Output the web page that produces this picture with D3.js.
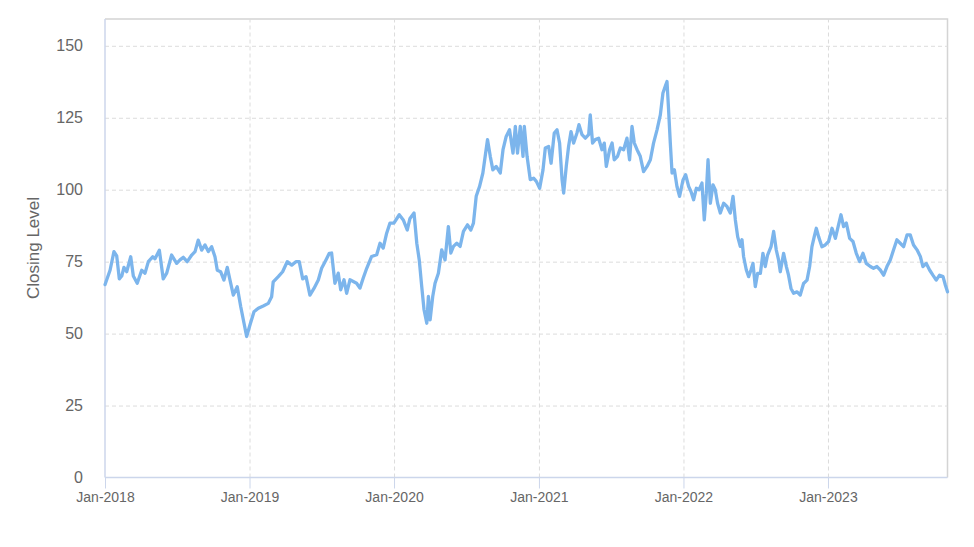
<!DOCTYPE html>
<html>
<head>
<meta charset="utf-8">
<script src="https://cdn.jsdelivr.net/npm/d3@7"></script>
<style>
  html, body { margin: 0; padding: 0; background: #fff; }
  svg { display: block; font-family: "Liberation Sans", Arial, sans-serif; }
</style>
</head>
<body>
<svg id="chart" width="974" height="547"></svg>
<script>
// ---- data (decimal-year dates and closing levels) ----
const yearPos = [
  2018.000,2018.007,2018.035,2018.062,2018.081,2018.099,2018.116,2018.131,2018.150,2018.178,2018.196,
  2018.223,2018.254,2018.277,2018.300,2018.330,2018.346,2018.376,2018.403,2018.427,2018.461,2018.496,
  2018.519,2018.542,2018.569,2018.600,2018.623,2018.645,2018.669,2018.692,2018.715,2018.738,2018.761,
  2018.777,2018.800,2018.823,2018.846,2018.865,2018.888,2018.915,2018.939,2018.962,2018.980,2019.003,
  2019.031,2019.061,2019.095,2019.130,2019.153,2019.164,2019.199,2019.229,2019.261,2019.292,2019.321,
  2019.344,2019.368,2019.391,2019.418,2019.446,2019.476,2019.499,2019.529,2019.552,
  2019.568,2019.591,2019.614,2019.631,2019.654,2019.672,2019.695,2019.718,2019.741,2019.764,2019.787,
  2019.811,2019.845,2019.880,2019.903,2019.925,2019.949,2019.972,2019.999,2020.036,2020.064,2020.091,
  2020.110,2020.138,2020.157,2020.174,2020.191,2020.207,2020.226,2020.237,2020.249,2020.267,2020.283,
  2020.306,2020.329,2020.352,2020.375,2020.392,2020.410,2020.433,2020.456,2020.479,2020.507,2020.530,
  2020.548,2020.567,2020.590,2020.613,2020.629,2020.645,2020.664,2020.682,2020.705,2020.733,2020.752,
  2020.774,2020.797,2020.821,2020.837,2020.852,2020.871,2020.890,2020.899,2020.918,2020.940,2020.963,
  2020.982,2021.005,
  2021.028,2021.044,2021.067,2021.084,2021.106,2021.125,2021.143,2021.160,2021.171,2021.189,2021.205,
  2021.222,2021.240,2021.263,2021.277,2021.298,2021.321,2021.344,2021.355,2021.371,2021.390,2021.413,
  2021.436,2021.452,2021.466,2021.489,2021.506,2021.521,2021.544,2021.563,2021.586,2021.609,2021.627,
  2021.644,2021.660,2021.679,2021.701,2021.724,2021.748,2021.771,2021.793,2021.817,2021.840,2021.858,
  2021.874,2021.886,2021.897,2021.909,2021.921,2021.937,2021.955,2021.973,2021.997,2022.015,2022.036,
  2022.052,2022.070,2022.089,2022.108,2022.128,2022.144,2022.158,2022.170,2022.186,2022.204,2022.220,
  2022.236,2022.255,2022.278,2022.301,2022.324,2022.343,2022.359,2022.375,2022.393,2022.405,2022.416,
  2022.435,2022.451,2022.467,2022.481,2022.497,2022.513,2022.532,2022.550,2022.566,2022.582,2022.606,
  2022.624,2022.642,2022.658,2022.670,2022.693,2022.712,2022.727,2022.744,2022.762,2022.786,2022.808,
  2022.831,2022.855,2022.873,2022.889,2022.905,2022.919,2022.935,2022.958,2022.981,2023.004,2023.028,
  2023.051,2023.073,2023.090,2023.108,2023.127,2023.150,2023.173,2023.196,2023.219,2023.242,2023.265,
  2023.293,2023.315,2023.339,2023.362,2023.385,2023.408,2023.431,2023.454,2023.477,2023.500,2023.523,
  2023.547,2023.569,2023.592,2023.616,2023.639,2023.657,2023.680,2023.703,2023.726,2023.749,2023.772,
  2023.796,2023.812,2023.827
];
const closing = [
  67,68,72,78.5,77,69,70,73,71.5,76.7,70,
  67.5,72,71,75,76.7,76,79,69,71,77.3,74.4,
  75.6,76.5,75,77.3,78.5,82.5,79,80.8,78.5,80.2,76.7,
  72,71.5,68.6,73,68.6,63.4,66.3,59.4,53.6,49,53,
  57.6,58.8,59.6,60.5,62.8,68,69.8,71.5,75,73.8,75,
  75,69,69.8,63.4,65.7,68.6,72.7,75.6,77.9,
  78,67.5,71,65.2,68.7,64,68.7,68.1,67.5,65.8,69.3,
  72.7,76.8,77.4,81.4,79.7,84.9,88.4,88.4,91.3,89.5,86,
  90,91.9,81.4,75.6,66.4,58.3,53.6,62.9,54.8,62.9,67.5,
  71,79.1,75.6,87.2,78,80.3,81.4,80.3,85.5,87.8,86,
  88.4,97.7,101.1,105.8,111.6,117.4,111.6,106.9,108.1,105.8,113.9,
  118.5,120.8,112.7,122,112.7,122,111.6,122,111.6,103.5,104,
  102.9,100.5,
  106.9,114.5,115,109.2,119.7,120.8,116.2,103.4,98.8,108.1,115,
  120.2,116.2,119.7,122.6,119.1,117.9,119.1,126,116.2,117.4,117.9,
  113.9,116.2,108.1,113.9,116.2,110.4,111.6,114.5,113.9,117.9,110.4,
  122,116.2,113.9,111.6,106.3,108.1,110.4,116.2,120.8,126,133.6,
  135.9,137.6,127.8,116.2,105.8,106.9,101.1,97.7,103.4,105.2,101.1,
  99.4,96.5,100.5,100,102.3,89.5,98.8,110.4,95.3,101.7,100,
  95.3,91.9,95.3,94.2,91.9,97.7,89.5,83.7,80.3,82.6,76.8,
  72.1,69.8,72.1,74.4,66.3,70.9,70.9,77.9,73.3,77.3,80.2,
  85.5,79.1,75.6,71.5,77.9,73.3,70.3,65.7,64,64.5,63.4,
  67.4,68.6,73.3,80.2,83.7,86.6,83.7,80.2,80.8,82,86.6,
  83.1,87.8,91.3,87.2,88.4,83.1,82,77.9,75,77.9,74.4,
  73.3,72.7,73.3,72.1,70.3,73.3,75.6,79.1,82.6,81.4,80.2,
  84.3,84.3,80.8,79.1,76.8,73.3,74.4,72.1,70.3,68.6,70.3,
  69.8,66.9,64.5
];
const yTicks = [0, 25, 50, 75, 100, 125, 150];
const xTickYears = [2018, 2019, 2020, 2021, 2022, 2023];
const xTickLabels = ["Jan-2018", "Jan-2019", "Jan-2020", "Jan-2021", "Jan-2022", "Jan-2023"];
const yTitle = "Closing Level";

// ---- helpers ----
function toDate(y) {
  const yr = Math.floor(y);
  const s = Date.UTC(yr, 0, 1), e = Date.UTC(yr + 1, 0, 1);
  return new Date(s + (y - yr) * (e - s));
}
const data = yearPos.map((y, i) => ({ date: toDate(y), value: closing[i] }));

// ---- layout ----
const L = 105, R = 947.5, T = 19, B = 477.5;
const svg = d3.select("#chart");

const x = d3.scaleUtc()
  .domain([toDate(yearPos[0]), toDate(yearPos[yearPos.length - 1])])
  .range([L, R]);
const y = d3.scaleLinear().domain([0, 150]).range([B, 45.8]);

// frame (top & right)
svg.append("path")
  .attr("d", `M${L},${T}H${R}V${B}`)
  .attr("fill", "none").attr("stroke", "#d4d4d4").attr("stroke-width", 1.5);

// horizontal grid
const gridY = svg.append("g")
  .attr("transform", `translate(${L},0)`)
  .call(d3.axisLeft(y).tickValues(yTicks.filter(v => v > 0)).tickSize(-(R - L)).tickFormat(""));
gridY.select(".domain").remove();
gridY.selectAll("line").attr("stroke", "#dcdcdc").attr("stroke-dasharray", "4,3");

// vertical grid
const xTickDates = xTickYears.map(yr => new Date(Date.UTC(yr, 0, 1)));
const gridX = svg.append("g")
  .attr("transform", `translate(0,${B})`)
  .call(d3.axisBottom(x).tickValues(xTickDates.slice(1)).tickSize(-(B - T)).tickFormat(""));
gridX.select(".domain").remove();
gridX.selectAll("line").attr("stroke", "#dcdcdc").attr("stroke-dasharray", "4,3");

// y axis labels
const yAxis = svg.append("g")
  .attr("transform", `translate(${L},0)`)
  .call(d3.axisLeft(y).tickValues(yTicks).tickSize(0).tickPadding(22));
yAxis.select(".domain").attr("stroke", "#ccd6eb").attr("stroke-width", 1.5)
  .attr("d", `M0,${T}V${B}`);
yAxis.selectAll("text")
  .attr("fill", "#666").style("font-size", "16px")
  .style("font-family", '"Liberation Sans", Arial, sans-serif');

// x axis
const xAxis = svg.append("g")
  .attr("transform", `translate(0,${B})`)
  .call(d3.axisBottom(x).tickValues(xTickDates).tickSize(11).tickPadding(4)
    .tickFormat((d, i) => xTickLabels[i]));
xAxis.select(".domain").attr("stroke", "#ccd6eb").attr("stroke-width", 1.5)
  .attr("d", `M${L},0H${R}`);
xAxis.selectAll("line").attr("stroke", "#ccd6eb");
xAxis.selectAll("text")
  .attr("fill", "#666").style("font-size", "14px")
  .style("font-family", '"Liberation Sans", Arial, sans-serif');

// y title
svg.append("text")
  .attr("transform", `translate(39,248) rotate(-90)`)
  .attr("text-anchor", "middle")
  .attr("fill", "#666")
  .style("font-size", "17px")
  .text(yTitle);

// line
const line = d3.line().x(d => x(d.date)).y(d => y(d.value));
svg.append("path")
  .datum(data)
  .attr("fill", "none")
  .attr("stroke", "#7cb5ec")
  .attr("stroke-width", 3.3)
  .attr("stroke-linejoin", "round")
  .attr("stroke-linecap", "round")
  .attr("d", line);
</script>
</body>
</html>
